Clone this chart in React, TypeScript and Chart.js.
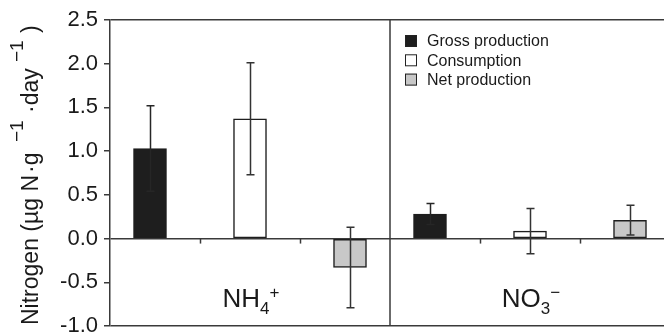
import React, { useEffect, useRef } from 'react';
import { Chart, registerables } from 'chart.js';

Chart.register(...registerables);

// ---- data ----
const groups = ['NH4+', 'NO3-'];
const seriesNames = ['Gross production', 'Consumption', 'Net production'];
const grossValues = [1.03, 0.28];
const grossErrors = [0.49, 0.12];
const consumptionValues = [1.37, 0.085];
const consumptionErrors = [0.64, 0.26];
const netValues = [-0.33, 0.21];
const netErrors = [0.46, 0.17];
const yTicks = [-1.0, -0.5, 0.0, 0.5, 1.0, 1.5, 2.0, 2.5];

// ---- layout (x positions in axis units) ----
const groupStart = [0.4, 3.2];
const dividerX = 2.8;
const xMax = 5.54;

const FONT = "'Liberation Sans', Arial, Helvetica, sans-serif";
const AXIS = '#3a3a3a';

const seriesValues = [grossValues, consumptionValues, netValues];
const seriesErrors = [grossErrors, consumptionErrors, netErrors];
const seriesFill = ['#1e1e1e', '#ffffff', '#c8c8c8'];

const errorBarPlugin = {
  id: 'errorBars',
  afterDatasetsDraw(chart: any) {
    const { ctx, scales } = chart;
    const xs = scales.x, ys = scales.y;
    ctx.save();
    ctx.lineWidth = 1.5;
    seriesValues.forEach((vals, i) => {
      vals.forEach((v, j) => {
        ctx.strokeStyle = i === 0 ? '#262626' : '#333';
        const e = seriesErrors[i][j];
        const px = Math.round(xs.getPixelForValue(groupStart[j] + i)) + 0.5;
        const top = ys.getPixelForValue(v + e);
        const bot = ys.getPixelForValue(v - e);
        ctx.beginPath();
        ctx.moveTo(px, top);
        ctx.lineTo(px, bot);
        ctx.moveTo(px - 4, top);
        ctx.lineTo(px + 4, top);
        ctx.moveTo(px - 4, bot);
        ctx.lineTo(px + 4, bot);
        ctx.stroke();
      });
    });
    ctx.restore();
  },
};

const decorPlugin = {
  id: 'decor',
  afterDraw(chart: any) {
    const { ctx, scales, chartArea } = chart;
    const xs = scales.x, ys = scales.y;
    ctx.save();
    // divider
    ctx.strokeStyle = AXIS;
    ctx.lineWidth = 1.5;
    const dx = Math.round(xs.getPixelForValue(dividerX));
    ctx.beginPath();
    ctx.moveTo(dx, chartArea.top);
    ctx.lineTo(dx, chartArea.bottom);
    ctx.stroke();
    // x tick marks at zero line
    const y0 = ys.getPixelForValue(0);
    groupStart.forEach((g) => {
      [0.5, 1.5].forEach((o) => {
        const px = Math.round(xs.getPixelForValue(g + o)) + 0.5;
        ctx.beginPath();
        ctx.moveTo(px, y0);
        ctx.lineTo(px, y0 + 5);
        ctx.stroke();
      });
    });

    // group labels
    ctx.fillStyle = '#1a1a1a';
    ctx.textBaseline = 'alphabetic';
    const drawChem = (main: string, sub: string, sup: string, cx: number) => {
      ctx.font = `26px ${FONT}`;
      const wMain = ctx.measureText(main).width;
      ctx.font = `17px ${FONT}`;
      const wSub = ctx.measureText(sub).width;
      const wSup = ctx.measureText(sup).width;
      const total = wMain + wSub + wSup;
      let x = cx - total / 2;
      const base = 307;
      ctx.font = `26px ${FONT}`;
      ctx.textAlign = 'left';
      ctx.fillText(main, x, base);
      x += wMain;
      ctx.font = `17px ${FONT}`;
      ctx.fillText(sub, x, base + 7);
      x += wSub;
      ctx.fillText(sup, x, base - 9);
    };
    drawChem('NH', '4', '+', xs.getPixelForValue(groupStart[0] + 1) + 1);
    drawChem('NO', '3', '\u2212', xs.getPixelForValue(groupStart[1] + 1) + 1);

    // legend
    ctx.font = `16px ${FONT}`;
    ctx.textAlign = 'left';
    ctx.textBaseline = 'middle';
    chart.data.datasets.forEach((ds: any, i: number) => {
      const cy = 41 + i * 19.3;
      ctx.fillStyle = ds.backgroundColor;
      ctx.fillRect(405, cy - 6, 12, 12);
      ctx.strokeStyle = '#222';
      ctx.lineWidth = 1;
      ctx.strokeRect(405.5, cy - 5.5, 11, 11);
      ctx.fillStyle = '#1a1a1a';
      ctx.fillText(ds.label, 427, cy + 1);
    });

    // y-axis title (rotated, with superscripts)
    ctx.save();
    ctx.translate(38, 325);
    ctx.rotate(-Math.PI / 2);
    ctx.textBaseline = 'alphabetic';
    ctx.textAlign = 'left';
    ctx.fillStyle = '#1a1a1a';
    const main = `23px ${FONT}`;
    const sup = `19px ${FONT}`;
    const segs: [string, number, string, number][] = [
      ['Nitrogen (\u00b5g N', 0, main, 0],
      ['\u00b7g', 152, main, 0],
      ['\u2212', 183, sup, -15],
      ['1', 194, sup, -15],
      ['\u00b7day', 212, main, 0],
      ['\u2212', 263, sup, -15],
      ['1', 274, sup, -15],
      [')', 292, main, 0],
    ];
    segs.forEach(([t, x, f, dy]) => {
      ctx.font = f;
      ctx.fillText(t, x, dy);
    });
    ctx.restore();

    ctx.restore();
  },
};

export default function App() {
  const ref = useRef<HTMLCanvasElement | null>(null);

  useEffect(() => {
    document.body.style.margin = '0';
    document.body.style.overflow = 'hidden';
    document.documentElement.style.overflow = 'hidden';
    const canvas = ref.current!;
    const datasets = seriesNames.map((name, i) => ({
      label: name,
      data: groups.map((_, j) => ({ x: groupStart[j] + i, y: seriesValues[i][j] })),
      backgroundColor: seriesFill[i],
      borderColor: '#1e1e1e',
      borderWidth: 1.5,
      borderSkipped: false,
      barThickness: 33,
      grouped: false,
    }));
    const chart = new Chart(canvas, {
      type: 'bar',
      data: { datasets },
      options: {
        responsive: false,
        animation: false,
        events: [],
        devicePixelRatio: 1,
        layout: { padding: { left: 0, top: 20, right: 0, bottom: 24 } },
        plugins: { legend: { display: false }, tooltip: { enabled: false } },
        scales: {
          x: { type: 'linear', min: 0, max: xMax, display: false, offset: false },
          y: {
            min: -1,
            max: 2.5,
            afterBuildTicks: (s: any) => {
              s.ticks = yTicks.map((v) => ({ value: v }));
            },
            afterFit: (s: any) => {
              s.width = 110;
            },
            ticks: {
              font: { family: FONT, size: 22 },
              color: '#1a1a1a',
              padding: 6,
              callback: (v: any) => Number(v).toFixed(1),
            },
            grid: {
              color: (c: any) =>
                c.tick && [2.5, 0, -1].includes(c.tick.value) ? AXIS : 'rgba(0,0,0,0)',
              tickColor: AXIS,
              tickLength: 6,
              lineWidth: 1.5,
            },
            border: { color: AXIS, width: 1.5 },
          },
        },
      },
      plugins: [errorBarPlugin, decorPlugin],
    } as any);
    return () => chart.destroy();
  }, []);

  return (
    <div style={{ width: 664, height: 350 }}>
      <canvas ref={ref} width={664} height={350} style={{ display: 'block' }} />
    </div>
  );
}
